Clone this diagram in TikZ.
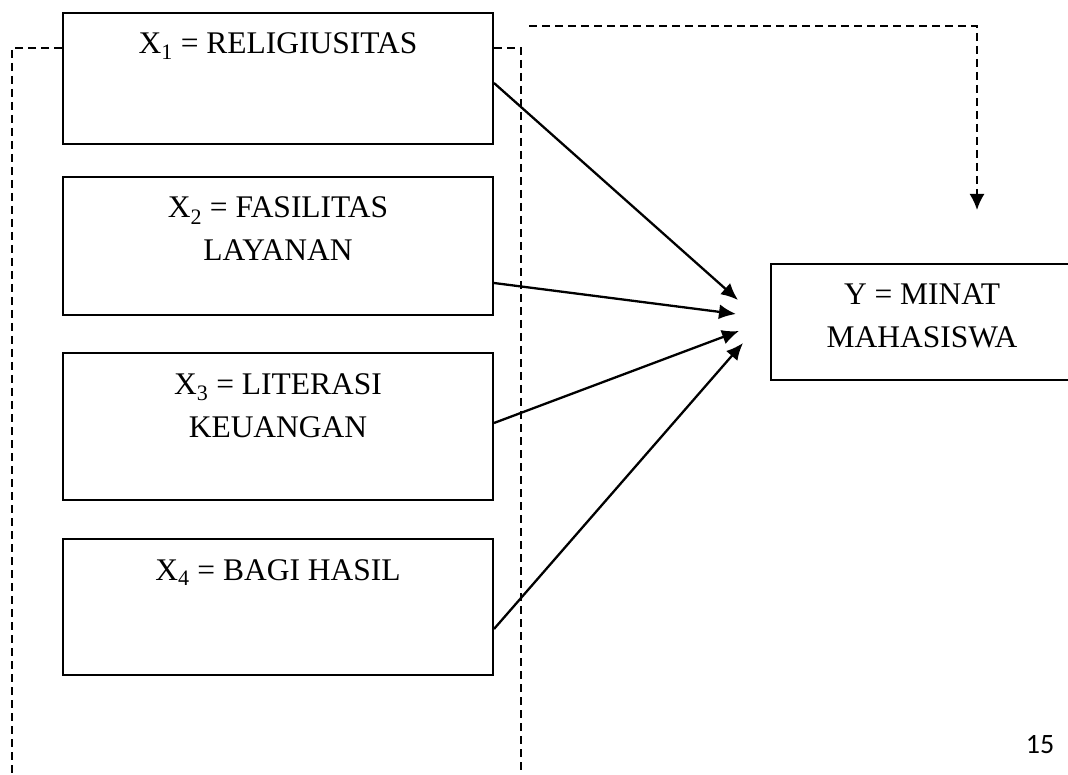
\documentclass[tikz,border=0pt]{standalone}
\usepackage{fontspec}
\setmainfont{Liberation Serif}
\newfontfamily\pagefont{Carlito}
\usetikzlibrary{calc,arrows.meta}

% top-aligned box text, first baseline 41pt below the top
\newcommand{\boxtext}[2]{\parbox[c][#1][t]{290pt}{\centering\rule{0pt}{41pt}#2}}

\begin{document}
\begin{tikzpicture}[x=1pt,y=-1pt,
    varbox/.style={draw,line width=2pt,inner sep=0pt,minimum width=430pt,anchor=north west,
        font=\fontsize{31.5pt}{43pt}\selectfont},
    effect/.style={-{Latex[length=17pt,width=15pt]},line width=2.3pt},
    link/.style={line width=1.9pt,dash pattern=on 8pt off 5pt}]
    \useasboundingbox (0,0) rectangle (1068,775);
    \clip (0,0) rectangle (1068,775);

    % independent variables
    \node[varbox,minimum height=131pt] (x1) at (62,12) {\boxtext{131pt}{X\textsubscript{1} = RELIGIUSITAS}};
    \node[varbox,minimum height=138pt] (x2) at (62,176) {\boxtext{138pt}{X\textsubscript{2} = FASILITAS\\LAYANAN}};
    \node[varbox,minimum height=147pt] (x3) at (62,352) {\boxtext{147pt}{X\textsubscript{3} = LITERASI\\KEUANGAN}};
    \node[varbox,minimum height=136pt] (x4) at (62,538) {\boxtext{136pt}{X\textsubscript{4} = BAGI HASIL}};
    % dependent variable
    \node[varbox,minimum width=302pt,minimum height=116pt] (y) at (770,263) {\boxtext{116pt}{Y = MINAT\\MAHASISWA}};

    % arrow ends in front of y
    \coordinate (t1) at ($(y.west)+(-32,-22)$);
    \coordinate (t2) at ($(y.west)+(-34,-8)$);
    \coordinate (t3) at ($(y.west)+(-31,9)$);
    \coordinate (t4) at ($(y.west)+(-27,21)$);
    \draw[effect] ($(x1.east)+(0,4.5)$) -- (t1);
    \draw[effect] ($(x2.east)+(0,37)$) -- (t2);
    \draw[effect] ($(x3.east)+(0,-3.5)$) -- (t3);
    \draw[effect] ($(x4.east)+(0,22)$) -- (t4);

    % simultaneous effect
    \coordinate (lb) at (12,780);
    \coordinate (rb) at (521,780);
    \coordinate (ts) at (529,26);
    \coordinate (te) at (977,210);
    \draw[link] ($(x1.north west)+(0,36)$) -| (lb);
    \draw[link] ($(x1.north east)+(0,36)$) -| (rb);
    \draw[link,-{Latex[length=16pt,width=15pt]}] (ts) -| (te);

    \node[font=\pagefont\fontsize{28pt}{34pt}\selectfont] (pg) at (1040,745) {15};
\end{tikzpicture}
\end{document}
